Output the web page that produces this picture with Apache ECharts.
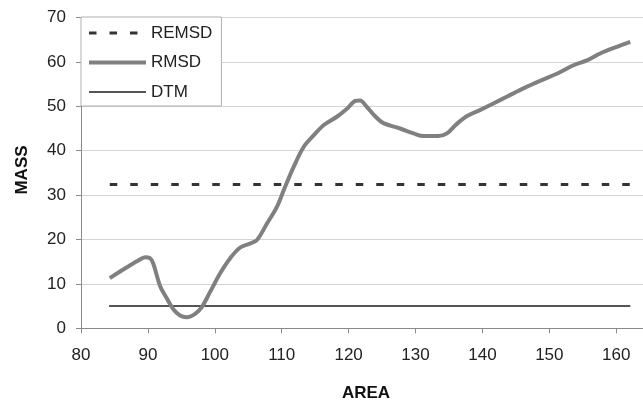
<!DOCTYPE html>
<html>
<head>
<meta charset="utf-8">
<script src="https://cdn.jsdelivr.net/npm/echarts@6/dist/echarts.min.js"></script>
<style>
html,body{margin:0;padding:0;background:#fff;}
#chart{width:643px;height:404px;}
</style>
</head>
<body>
<div id="chart"></div>
<script>
// ---- data ----
var rmsdX = [84.3, 86.5, 88.5, 89.6, 90.3, 90.8, 91.8, 92.8, 93.8, 94.8, 95.8, 97.1, 98.1, 99.3, 100.8, 102.3, 103.8, 105.3, 106.3, 107.8, 109.3, 110.3, 111.8, 113.3, 114.8, 116.3, 118.3, 119.8, 121.0, 121.7, 122.7, 124.0, 125.2, 127.7, 129.7, 131.2, 133.4, 134.7, 136.0, 137.7, 139.7, 141.7, 143.7, 146.2, 148.7, 151.2, 153.7, 155.7, 157.6, 160.1, 162.1];
var rmsdY = [11.3, 13.4, 15.2, 16.0, 15.8, 14.6, 9.6, 6.8, 4.3, 2.9, 2.5, 3.3, 4.9, 8.2, 12.4, 15.8, 18.2, 19.1, 19.9, 23.6, 27.4, 31.1, 36.4, 40.9, 43.5, 45.8, 47.7, 49.5, 51.2, 51.3, 49.9, 47.7, 46.2, 45.0, 43.9, 43.3, 43.3, 43.9, 45.8, 47.8, 49.2, 50.7, 52.2, 54.1, 55.8, 57.4, 59.3, 60.4, 61.9, 63.4, 64.5];
var remsdX = [84.3, 162.1];
var remsdY = [32.4, 32.4];
var dtmX = [84.2, 162.1];
var dtmY = [5.0, 5.0];
var xTicks = [80, 90, 100, 110, 120, 130, 140, 150, 160];
var yTicks = [0, 10, 20, 30, 40, 50, 60, 70];
var seriesNames = ['REMSD', 'RMSD', 'DTM'];
var xTitle = 'AREA';
var yTitle = 'MASS';

function pairs(xs, ys) { return xs.map(function (x, i) { return [x, ys[i]]; }); }

var FONT = '"Liberation Sans", Arial, sans-serif';
var styles = {
  REMSD: {color: '#333333', width: 3, type: [7.5, 13]},
  RMSD: {color: '#808080', width: 4, type: 'solid'},
  DTM: {color: '#555555', width: 2, type: 'solid'}
};
var chart = echarts.init(document.getElementById('chart'), null, {renderer: 'canvas'});
chart.setOption({
  animation: false,
  backgroundColor: '#ffffff',
  textStyle: {fontFamily: FONT},
  grid: {left: 81, right: 0, top: 17.5, bottom: 75.7, containLabel: false},
  legend: {
    orient: 'vertical',
    left: 81, top: 17,
    padding: [7.5, 9, 5.5, 6],
    itemWidth: 57, itemHeight: 16, itemGap: 12.5,
    backgroundColor: '#ffffff',
    borderColor: '#b0b0b0', borderWidth: 1,
    itemStyle: {opacity: 0},
    textStyle: {fontFamily: FONT, fontSize: 17, color: '#222'},
    data: seriesNames.map(function (n) {
      return {name: n, itemStyle: {opacity: 0},
              lineStyle: {color: styles[n].color, width: styles[n].width, type: styles[n].type, opacity: 1}};
    })
  },
  xAxis: {
    type: 'value',
    min: xTicks[0], max: 164, interval: 10,
    axisLine: {show: true, onZero: false, lineStyle: {color: '#8a8a8a', width: 1}},
    axisTick: {show: true, inside: false, length: 5, lineStyle: {color: '#8a8a8a'}},
    splitLine: {show: false},
    axisLabel: {
      margin: 19, fontSize: 17, color: '#222', fontFamily: FONT, showMaxLabel: false,
      formatter: function (v) { return xTicks.indexOf(v) >= 0 ? String(v) : ''; }
    }
  },
  yAxis: {
    type: 'value',
    min: yTicks[0], max: yTicks[yTicks.length - 1], interval: 10,
    axisLine: {show: true, lineStyle: {color: '#8a8a8a', width: 1}},
    axisTick: {show: true, length: 5, lineStyle: {color: '#8a8a8a'}},
    splitLine: {show: true, lineStyle: {color: '#d4d4d4', width: 1}},
    axisLabel: {margin: 15, fontSize: 17, color: '#222', fontFamily: FONT}
  },
  graphic: [
    {type: 'text', silent: true, x: 366, y: 393,
     style: {text: xTitle, x: 0, y: 0, textAlign: 'center', textVerticalAlign: 'middle',
             font: 'bold 17px ' + FONT, fill: '#111'}},
    {type: 'text', silent: true, rotation: Math.PI / 2, x: 22, y: 170,
     style: {text: yTitle, x: 0, y: 0, textAlign: 'center', textVerticalAlign: 'middle',
             font: 'bold 17px ' + FONT, fill: '#111'}}
  ],
  series: [
    {name: seriesNames[0], type: 'line', symbol: 'none', data: pairs(remsdX, remsdY),
     color: styles.REMSD.color, lineStyle: styles.REMSD, z: 3},
    {name: seriesNames[1], type: 'line', symbol: 'none', smooth: 0.35, data: pairs(rmsdX, rmsdY),
     color: styles.RMSD.color, lineStyle: styles.RMSD, z: 4},
    {name: seriesNames[2], type: 'line', symbol: 'none', data: pairs(dtmX, dtmY),
     color: styles.DTM.color, lineStyle: styles.DTM, z: 2}
  ]
});
</script>
</body>
</html>
